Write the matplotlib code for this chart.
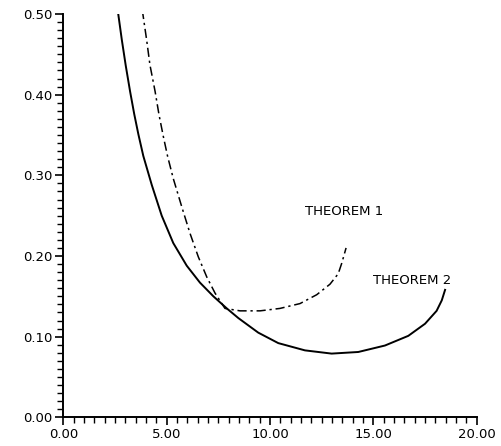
import matplotlib
matplotlib.use("Agg")
import matplotlib.pyplot as plt
from matplotlib.ticker import MultipleLocator, FormatStrFormatter

# Theorem 2 (solid)
t2_x = [2.63, 2.83, 3.02, 3.23, 3.43, 3.63, 3.87, 4.28, 4.76, 5.32, 5.97, 6.61, 7.26, 7.91,
        8.47, 9.43, 10.40, 11.69, 12.98, 14.27, 15.56, 16.69, 17.50, 18.06, 18.31, 18.47]
t2_y = [0.505, 0.468, 0.436, 0.404, 0.376, 0.351, 0.324, 0.288, 0.250, 0.216, 0.188, 0.167, 0.150, 0.135,
        0.123, 0.105, 0.092, 0.083, 0.079, 0.081, 0.089, 0.101, 0.116, 0.132, 0.145, 0.158]

# Theorem 1 (dash-dot)
t1_x = [3.82, 4.03, 4.19, 4.44, 4.63, 4.84, 5.05, 5.32, 5.73, 6.13, 6.53, 6.94, 7.34, 7.82,
        8.55, 9.52, 10.48, 11.45, 12.26, 12.90, 13.30, 13.47, 13.68]
t1_y = [0.505, 0.468, 0.437, 0.404, 0.375, 0.348, 0.323, 0.296, 0.261, 0.228, 0.199, 0.174, 0.154, 0.135,
        0.132, 0.132, 0.135, 0.141, 0.152, 0.165, 0.178, 0.191, 0.210]

labels = ["THEOREM 1", "THEOREM 2"]
label_pos = [(11.7, 0.255), (15.0, 0.170)]

fig = plt.figure(figsize=(5.01, 4.46), dpi=100)
ax = fig.add_axes([0.1264, 0.0643, 0.8251, 0.9043])

ax.plot(t2_x, t2_y, color="black", lw=1.4, solid_joinstyle="round")
ax.plot(t1_x, t1_y, color="black", lw=1.1, linestyle=(0, (6, 2.5, 1.5, 2.5)))

for lab, (lx, ly) in zip(labels, label_pos):
    ax.text(lx, ly, lab, fontsize=9.5, family="DejaVu Sans", va="center", ha="left")

ax.set_xlim(0, 20)
ax.set_ylim(0, 0.5)
ax.xaxis.set_major_locator(MultipleLocator(5))
ax.xaxis.set_minor_locator(MultipleLocator(0.5))
ax.yaxis.set_major_locator(MultipleLocator(0.1))
ax.yaxis.set_minor_locator(MultipleLocator(0.01))
ax.xaxis.set_major_formatter(FormatStrFormatter("%.2f"))
ax.yaxis.set_major_formatter(FormatStrFormatter("%.2f"))

for s in ["top", "right"]:
    ax.spines[s].set_visible(False)
for s in ["left", "bottom"]:
    ax.spines[s].set_linewidth(1.4)

ax.tick_params(which="major", direction="out", length=6, width=1.2, labelsize=9.5, pad=2)
ax.tick_params(which="minor", direction="out", length=4, width=1.0)

fig.savefig("out.png", dpi=100)
